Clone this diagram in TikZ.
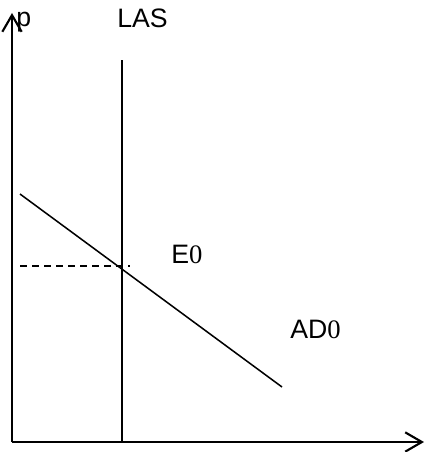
\documentclass[tikz,border=0pt]{standalone}
\usepackage{fontspec}
\setmainfont{Liberation Sans}
\newfontfamily\serifzero{Liberation Serif}
\usetikzlibrary{arrows.meta}
\begin{document}
\begin{tikzpicture}[x=0.75pt,y=-0.75pt,
  lbl/.style={anchor=base west,inner sep=0pt,font=\fontsize{20}{22}\selectfont},
  axis/.style={line width=1.9pt,-{Straight Barb[length=12.5pt,width=14.5pt,line width=1.6pt]}},
  curve/.style={line width=1.15pt},
  guide/.style={line width=1.1pt,dash pattern=on 5.5pt off 3.5pt}]
\useasboundingbox (0,0) rectangle (425,452);
\coordinate (O) at (12,442);
\coordinate (Ytop) at (12,13);
\coordinate (Xend) at (424,442);
\coordinate (LAStop) at (122,60);
\coordinate (LASbot) at (122,442);
\coordinate (ADs) at (20,194);
\coordinate (ADe) at (282,387);
\coordinate (Ds) at (20,266);
\coordinate (De) at (130,266);
\draw[axis] (O) -- (Ytop);
\draw[axis] (O) -- (Xend);
\draw[curve] (LASbot) -- (LAStop);
\draw[curve] (ADs) -- (ADe);
\draw[guide] (Ds) -- (De);
\node[lbl] (p) at (16,27) {p};
\node[lbl] (las) at (117,28) {LAS};
\node[lbl] (e0) at (171,263) {E{\serifzero 0}};
\node[lbl] (ad0) at (290,338) {AD{\serifzero 0}};
\end{tikzpicture}
\end{document}
